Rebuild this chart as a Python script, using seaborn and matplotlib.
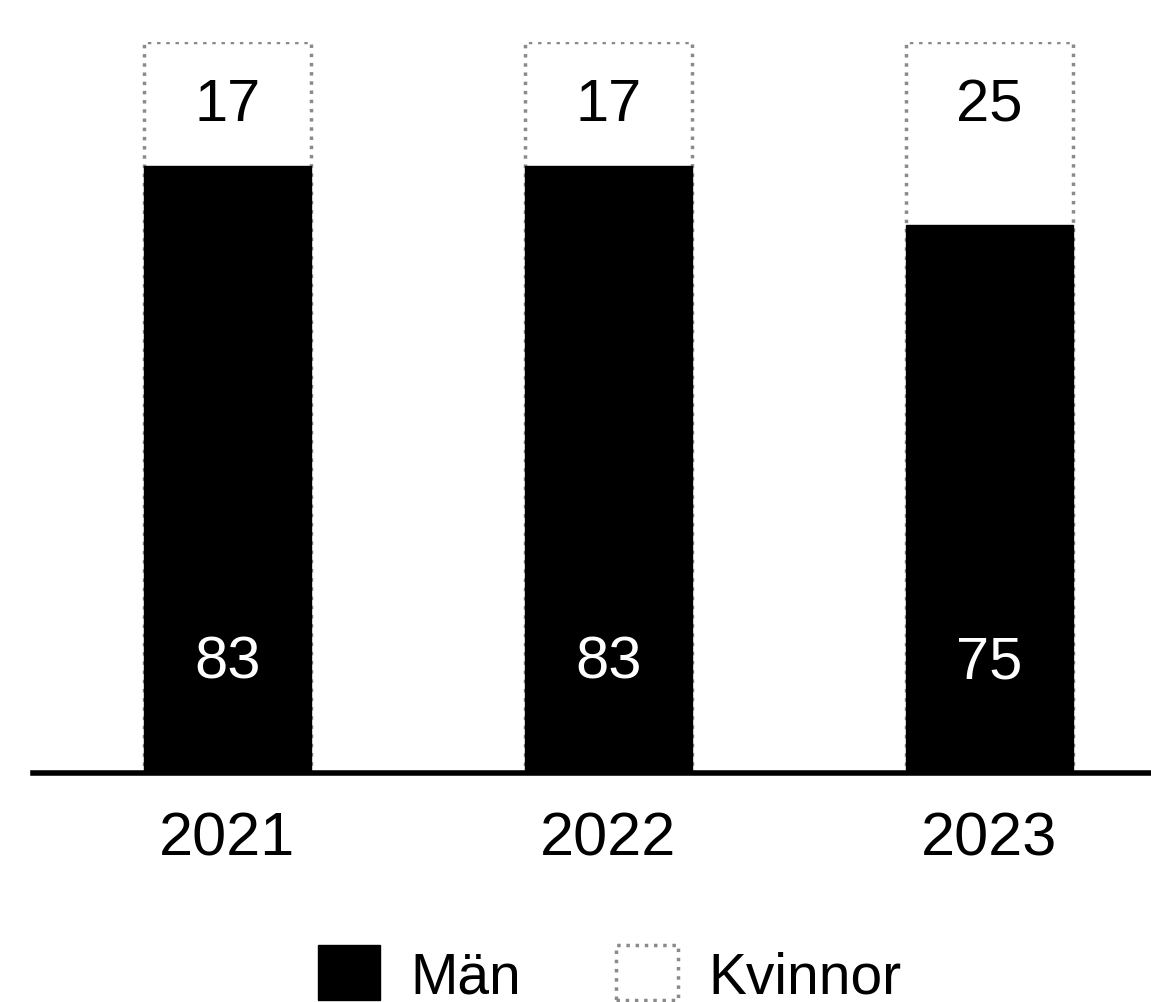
import pandas as pd
import matplotlib.pyplot as plt
import seaborn as sns
from matplotlib.patches import Patch

# Data (percent)
years = ["2021", "2022", "2023"]
man = [83, 83, 75]
kvinnor = [17, 17, 25]

df = pd.DataFrame({"year": years, "Män": man, "Kvinnor": kvinnor})
df["total"] = df["Män"] + df["Kvinnor"]

sns.set_style("white")
plt.rcParams["font.family"] = ["Liberation Sans", "DejaVu Sans"]

fig = plt.figure(figsize=(11.51, 10.03), dpi=100)
ax = fig.add_axes([0.0287, 0.2283, 0.9713, 0.7288])

# stacked bars: total in Kvinnor style, Män drawn over it
sns.barplot(data=df, x="year", y="total", color="white", width=0.438,
            edgecolor="#8a8a8a", linewidth=2.5, linestyle=":", ax=ax)
sns.barplot(data=df, x="year", y="Män", color="black", width=0.438,
            edgecolor="black", linewidth=1, ax=ax)

for i, (m, k) in enumerate(zip(man, kvinnor)):
    ax.text(i, 15.2, str(m), ha="center", va="center", color="white", fontsize=43)
    ax.text(i, 91.4, str(k), ha="center", va="center", color="black", fontsize=43)

ax.set_ylim(0, 100)
ax.set_xlim(-0.51, 2.424)
ax.set_xlabel("")
ax.set_ylabel("")
ax.set_yticks([])
ax.tick_params(axis="x", length=0, labelsize=44, labelcolor="black", pad=27)
for s in ["top", "right", "left"]:
    ax.spines[s].set_visible(False)
ax.spines["bottom"].set_linewidth(4)
ax.spines["bottom"].set_color("black")

handles = [Patch(facecolor="black", edgecolor="black", label="Män"),
           Patch(facecolor="white", edgecolor="#8a8a8a", linestyle=":", linewidth=2.5, label="Kvinnor")]
fig.legend(handles=handles, loc="lower center", bbox_to_anchor=(0.5295, -0.002),
           ncol=2, frameon=False, fontsize=41, labelcolor="black",
           handlelength=1.09, handleheight=1.1, borderpad=0,
           columnspacing=1.67, handletextpad=0.53, borderaxespad=0)

fig.savefig("out.png", dpi=100)
plt.close()
